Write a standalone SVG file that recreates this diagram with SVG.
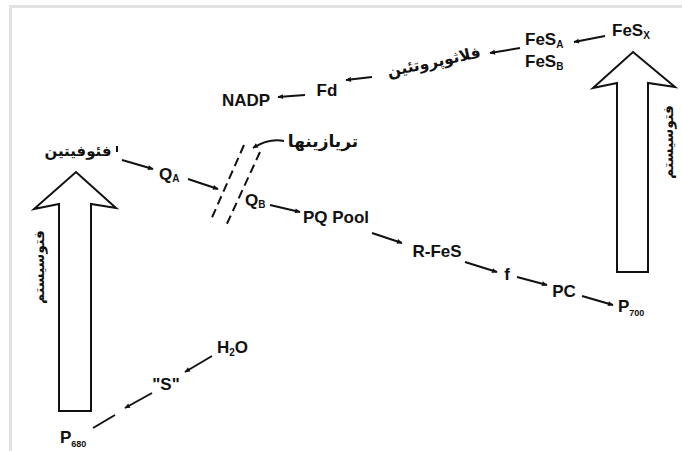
<svg xmlns="http://www.w3.org/2000/svg" width="682" height="451" viewBox="0 0 682 451">
  <defs>
    <marker id="ah" viewBox="0 0 10 10" refX="9" refY="5" markerWidth="6.5" markerHeight="5.5" markerUnits="userSpaceOnUse" orient="auto">
      <path d="M0,0.5 L10,5 L0,9.5 z" fill="#111"/>
    </marker>
    <style>
      .lbl { font-family: "Liberation Sans", Arial, sans-serif; font-weight: bold; font-size: 17px; fill: #111; }
      .sub { font-size: 10px; }
      .fa { font-family: "DejaVu Sans", "Noto Sans", sans-serif; font-weight: bold; font-size: 14px; fill: #111; }
      .con line, .con path { stroke: #111; stroke-width: 2; fill: none; }
      .arr { marker-end: url(#ah); }
      .big { fill: #fff; stroke: #111; stroke-width: 2; stroke-linejoin: miter; }
      .dash { stroke: #111; stroke-width: 2; stroke-dasharray: 9 5; }
    </style>
  </defs>

  <rect width="682" height="451" fill="#fff"/>
  <!-- frame edges -->
  <g fill="#e2e2e2">
    <rect x="9" y="5" width="673" height="3"/>
    <rect x="9" y="5" width="3" height="446"/>
  </g>

  <!-- photosystem arrows -->
  <g id="ps2-arrow">
    <path class="big" d="M59,411 L59,204 L34,209 L76,172 L116,208 L91,204 L91,411 Z"/>
    <text class="fa" transform="translate(39,267) rotate(-90)" text-anchor="middle" dy="5">فتوسیستم</text>
  </g>
  <g id="ps1-arrow">
    <path class="big" d="M617,272 L617,83 L593,88 L633,52 L675,87 L648,83 L648,272 Z"/>
    <text class="fa" transform="translate(668,142) rotate(-90)" text-anchor="middle" dy="5">فتوسیستم</text>
  </g>

  <!-- connectors -->
  <g id="connectors" class="con">
    <line class="arr" x1="605" y1="36" x2="574" y2="42"/>
    <line class="arr" x1="520" y1="48" x2="490" y2="53"/>
    <line class="arr" x1="372" y1="77" x2="346" y2="80"/>
    <line class="arr" x1="305" y1="95" x2="278" y2="97"/>
    <line class="arr" x1="122" y1="160" x2="153" y2="169"/>
    <line class="arr" x1="188" y1="179" x2="218" y2="189"/>
    <line class="arr" x1="270" y1="205" x2="300" y2="212"/>
    <line class="arr" x1="372" y1="233" x2="402" y2="243"/>
    <line class="arr" x1="465" y1="262" x2="497" y2="272"/>
    <line class="arr" x1="517" y1="277" x2="547" y2="285"/>
    <line class="arr" x1="582" y1="296" x2="613" y2="305"/>
    <line class="arr" x1="212" y1="356" x2="185" y2="372"/>
    <line class="arr" x1="152" y1="393" x2="125" y2="408"/>
    <line x1="115" y1="415" x2="93" y2="428"/>
    <path class="arr" d="M284,141 C274,139 264,141 253,148"/>
  </g>

  <!-- membrane break (triazine site) -->
  <g id="triazine-site">
    <line class="dash" x1="244" y1="145" x2="210" y2="222"/>
    <line class="dash" x1="260" y1="152" x2="225" y2="228"/>
  </g>

  <!-- nodes -->
  <g id="fesx"><text class="lbl" x="612" y="36">FeS<tspan class="sub" dy="3">X</tspan></text></g>
  <g id="fesa"><text class="lbl" x="525" y="45">FeS<tspan class="sub" dy="3">A</tspan></text></g>
  <g id="fesb"><text class="lbl" x="525" y="67">FeS<tspan class="sub" dy="3">B</tspan></text></g>
  <g id="flavoprotein"><text class="fa" transform="rotate(-12 434 62)" x="434" y="67" text-anchor="middle" style="font-size:15.5px">فلاثوپروتئین</text></g>
  <g id="fd"><text class="lbl" x="327" y="96" text-anchor="middle">Fd</text></g>
  <g id="nadp"><text class="lbl" x="246" y="106" text-anchor="middle">NADP</text></g>
  <g id="pheophytin">
    <text class="fa" x="78" y="156" text-anchor="middle" style="font-size:15px">فئوفیتین</text>
    <line x1="117" y1="146" x2="117" y2="152" stroke="#111" stroke-width="2"/>
  </g>
  <g id="qa"><text class="lbl" x="159" y="180">Q<tspan class="sub" dy="2">A</tspan></text></g>
  <g id="triazines"><text class="fa" x="323" y="147" text-anchor="middle" style="font-size:17px">تریازینها</text></g>
  <g id="qb"><text class="lbl" x="245" y="206">Q<tspan class="sub" dy="2">B</tspan></text></g>
  <g id="pq-pool"><text class="lbl" x="336" y="223" text-anchor="middle">PQ Pool</text></g>
  <g id="r-fes"><text class="lbl" x="437" y="257" text-anchor="middle">R-FeS</text></g>
  <g id="f"><text class="lbl" x="507" y="280" text-anchor="middle">f</text></g>
  <g id="pc"><text class="lbl" x="564" y="297" text-anchor="middle">PC</text></g>
  <g id="p700"><text class="lbl" x="618" y="312">P<tspan class="sub" style="font-size:9px" dy="4">700</tspan></text></g>
  <g id="h2o"><text class="lbl" x="217" y="353">H<tspan class="sub" dy="3">2</tspan><tspan dy="-3">O</tspan></text></g>
  <g id="s-state"><text class="lbl" x="166" y="390" text-anchor="middle">"S"</text></g>
  <g id="p680"><text class="lbl" x="60" y="443">P<tspan class="sub" style="font-size:9px" dy="4">680</tspan></text></g>
</svg>
